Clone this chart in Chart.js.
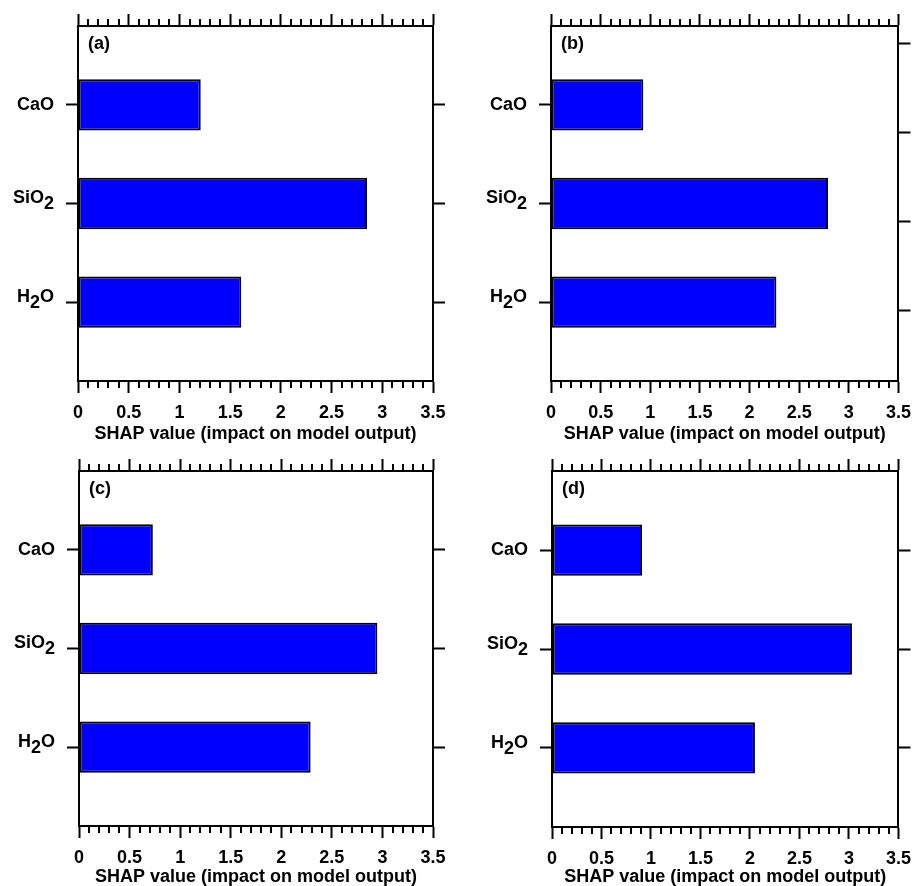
<!DOCTYPE html>
<html>
<head>
<meta charset="utf-8">
<script src="https://cdn.jsdelivr.net/npm/chart.js@4.4.1/dist/chart.umd.min.js"></script>
<style>
  html, body { margin: 0; padding: 0; background: #fff; }
  #wrap { position: relative; width: 920px; height: 886px; overflow: hidden; }
  .panel { position: absolute; width: 460px; height: 443px; }
</style>
</head>
<body>
<div id="wrap">
  <div class="panel" style="left:0;top:0"><canvas id="chart-a" width="460" height="443"></canvas></div>
  <div class="panel" style="left:460px;top:0"><canvas id="chart-b" width="460" height="443"></canvas></div>
  <div class="panel" style="left:0;top:443px"><canvas id="chart-c" width="460" height="443"></canvas></div>
  <div class="panel" style="left:460px;top:443px"><canvas id="chart-d" width="460" height="443"></canvas></div>
</div>
<script>
// data
const categories = ['CaO', 'SiO2', 'H2O'];
const shapA = [1.21, 2.85, 1.61];
const shapB = [0.93, 2.79, 2.27];
const shapC = [0.73, 2.95, 2.29];
const shapD = [0.91, 3.03, 2.05];
const xTickLabels = ['0', '0.5', '1', '1.5', '2', '2.5', '3', '3.5'];
const panelLabels = ['(a)', '(b)', '(c)', '(d)'];
// right-hand mirror ticks (panel b has its own spacing)
const rightTicksA = [0, 1, 2];
const rightTicksB = [-0.62, 0.28, 1.18, 2.08];
const rightTicksC = [0, 1, 2];
const rightTicksD = [0, 1, 2];

const FONT = 'Liberation Sans, Arial, Helvetica, sans-serif';

// plot box of each canvas (left, top, right, bottom)
const panels = [
    { id: 'chart-a', values: shapA, label: panelLabels[0], right: rightTicksA, box: [78, 26, 433, 381] },
    { id: 'chart-b', values: shapB, label: panelLabels[1], right: rightTicksB, box: [91, 26, 446, 381] },
    { id: 'chart-c', values: shapC, label: panelLabels[2], right: rightTicksC, box: [79, 28, 433, 383] },
    { id: 'chart-d', values: shapD, label: panelLabels[3], right: rightTicksD, box: [92, 28, 447, 384] }
];

// minor ticks on top/bottom, category labels with subscripts, panel letter
const decorPlugin = {
    id: 'decor',
    afterDraw(chart, args, opts) {
        const ctx = chart.ctx;
        const area = chart.chartArea;
        const x = chart.scales.x;
        const y = chart.scales.y;
        ctx.save();
        ctx.strokeStyle = '#000';
        ctx.lineWidth = 2;
        ctx.beginPath();
        for (let i = 0; i <= 35; i++) {
            if (i % 5 === 0) continue;
            const px = Math.round(x.getPixelForValue(i / 10));
            ctx.moveTo(px, area.bottom);
            ctx.lineTo(px, area.bottom + 7);
            ctx.moveTo(px, area.top);
            ctx.lineTo(px, area.top - 7);
        }
        ctx.stroke();

        ctx.fillStyle = '#000';
        ctx.font = 'bold 18px ' + FONT;
        ctx.textBaseline = 'middle';
        ctx.textAlign = 'left';
        categories.forEach((name, i) => {
            const py = y.getPixelForValue(i);
            const parts = name.split(/(\d+)/).filter(s => s.length);
            const hasSub = parts.length > 1;
            let w = 0;
            parts.forEach(s => { w += ctx.measureText(s).width; });
            let cx = area.left - 24 - w;
            parts.forEach(s => {
                const isSub = /^\d+$/.test(s);
                const dy = hasSub ? (isSub ? 1 : -5) : 0;
                ctx.fillText(s, cx, py + dy);
                cx += ctx.measureText(s).width;
            });
        });

        ctx.fillText(opts.label, area.left + 10, area.top + 18);
        ctx.restore();
    }
};

const axisGrid = (len) => ({
    drawOnChartArea: false,
    drawTicks: true,
    offset: false,
    tickLength: len,
    tickWidth: 2,
    tickColor: '#000'
});
const axisBorder = { display: true, color: '#000', width: 2 };

panels.forEach(p => {
    const [bl, bt, br, bb] = p.box;
    const W = 460, H = 443;
    new Chart(document.getElementById(p.id), {
        type: 'bar',
        data: {
            datasets: [{
                data: categories.map((c, i) => ({ x: p.values[i], y: i })),
                backgroundColor: '#0000ff',
                borderColor: '#000',
                borderWidth: 2,
                borderSkipped: false,
                categoryPercentage: 1,
                barPercentage: 0.52
            }]
        },
        options: {
            indexAxis: 'y',
            responsive: false,
            animation: false,
            events: [],
            layout: { padding: 0 },
            plugins: {
                legend: { display: false },
                tooltip: { enabled: false },
                decor: { label: p.label }
            },
            scales: {
                x: {
                    type: 'linear', position: 'bottom', min: 0, max: 3.5, offset: false,
                    grid: axisGrid(12), border: axisBorder,
                    ticks: {
                        stepSize: 0.5, maxRotation: 0, autoSkip: false, padding: 9,
                        color: '#000', font: { family: FONT, size: 18, weight: 'bold' },
                        callback: (v, i) => xTickLabels[i]
                    },
                    title: {
                        display: true, text: 'SHAP value (impact on model output)', color: '#000',
                        font: { family: FONT, size: 18, weight: 'bold', lineHeight: 1 },
                        padding: { top: 0, bottom: 0 }
                    },
                    afterFit: s => { s.height = H - bb; }
                },
                x2: {
                    type: 'linear', position: 'top', min: 0, max: 3.5, offset: false,
                    grid: axisGrid(12), border: axisBorder,
                    ticks: { stepSize: 0.5, display: false },
                    afterFit: s => { s.height = bt; }
                },
                y: {
                    type: 'linear', position: 'left', min: -0.8, max: 2.8, reverse: true, offset: false,
                    grid: axisGrid(12), border: axisBorder,
                    ticks: { display: false },
                    afterBuildTicks: s => { s.ticks = categories.map((c, i) => ({ value: i })); },
                    afterFit: s => { s.width = bl; }
                },
                y2: {
                    type: 'linear', position: 'right', min: -0.8, max: 2.8, reverse: true, offset: false,
                    grid: axisGrid(12), border: axisBorder,
                    ticks: { display: false },
                    afterBuildTicks: s => { s.ticks = p.right.map(v => ({ value: v })); },
                    afterFit: s => { s.width = W - br; }
                }
            }
        },
        plugins: [decorPlugin]
    });
});
</script>
</body>
</html>
